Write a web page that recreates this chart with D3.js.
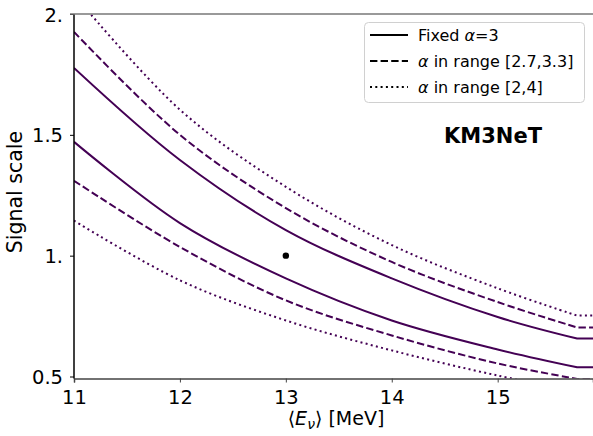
<!DOCTYPE html>
<html>
<head>
<meta charset="utf-8">
<script src="https://cdn.jsdelivr.net/npm/d3@7"></script>
<style>
  html, body { margin: 0; padding: 0; background: #fff; }
  svg { display: block; font-family: "DejaVu Sans", sans-serif; }
</style>
</head>
<body>
<svg id="chart" width="593" height="436"></svg>
<script>
// ---- data ----
const energies    = [11, 12, 13, 14, 15, 15.75, 15.9];
const fixedUpper  = [1.777, 1.396, 1.106, 0.906, 0.746, 0.657, 0.657];
const fixedLower  = [1.471, 1.135, 0.906, 0.732, 0.612, 0.538, 0.538];
const narrowUpper = [1.926, 1.500, 1.197, 0.974, 0.808, 0.703, 0.703];
const narrowLower = [1.310, 1.036, 0.815, 0.670, 0.554, 0.490, 0.490];
const wideUpper   = [2.080, 1.604, 1.285, 1.044, 0.865, 0.752, 0.752];
const wideLower   = [1.145, 0.898, 0.732, 0.608, 0.504, 0.440, 0.440];
const bestFit     = [{E: 13, s: 1.0}];
const xTicks = [11, 12, 13, 14, 15];
const yTicks = [0.5, 1.0, 1.5, 2.0];
const yTickLabels = ["0.5", "1.", "1.5", "2."];
const legendLabels = ["Fixed α=3", "α in range [2.7,3.3]", "α in range [2,4]"];

const color = "#440154";
const svg = d3.select("#chart");
const pLeft = 74, pRight = 593, pTop = 14, pBottom = 376.5, axisY = 378.5;

const x = d3.scaleLinear().domain([11, 15.9]).range([pLeft, pRight]);
const y = d3.scaleLinear().domain([0.5, 2.0]).range([pBottom, pTop]);

svg.append("defs").append("clipPath").attr("id", "clip")
  .append("rect").attr("x", pLeft).attr("y", pTop).attr("width", pRight - pLeft).attr("height", axisY - pTop);

const curveLine = d3.line().x(d => x(d[0])).y(d => y(d[1])).curve(d3.curveCatmullRom.alpha(0.5));
function pathFor(pts) {
  // smooth through the sampled points, then the flat tail as a straight segment
  const body = pts.slice(0, -1);
  const last = pts[pts.length - 1];
  return curveLine(body) + "L" + x(last[0]) + "," + y(last[1]);
}

const series = [
  {vals: fixedUpper, dash: null},
  {vals: fixedLower, dash: null},
  {vals: narrowUpper, dash: "7.4,3.2"},
  {vals: narrowLower, dash: "7.4,3.2"},
  {vals: wideUpper, dash: "2,3.3"},
  {vals: wideLower, dash: "2,3.3"}
];

const g = svg.append("g").attr("clip-path", "url(#clip)");
series.forEach(s => {
  g.append("path")
    .datum(energies.map((e, i) => [e, s.vals[i]]))
    .attr("d", pathFor)
    .attr("fill", "none")
    .attr("stroke", color)
    .attr("stroke-width", 2)
    .attr("stroke-dasharray", s.dash);
});

g.selectAll("circle.bf").data(bestFit).enter().append("circle")
  .attr("cx", d => x(d.E)).attr("cy", d => y(d.s)).attr("r", 3.2).attr("fill", "#000");

// axes
const xAxis = d3.axisBottom(x).tickValues(xTicks).tickSize(4).tickFormat(d3.format("d"));
const xg = svg.append("g").attr("transform", `translate(0,${axisY})`).call(xAxis);
xg.select(".domain").attr("stroke", "#444").attr("stroke-width", 1.5);
xg.selectAll(".tick line").attr("stroke", "#444");
xg.selectAll(".tick text").attr("font-size", 19.5).attr("fill", "#000")
  .attr("font-family", "DejaVu Sans").attr("dy", null).attr("y", 0)
  .attr("transform", "translate(0,25)");

const yAxis = d3.axisLeft(y).tickValues(yTicks).tickSize(4)
  .tickFormat((d, i) => yTickLabels[i]);
const yg = svg.append("g").attr("transform", `translate(${pLeft},0)`).call(yAxis);
yg.select(".domain").remove();
yg.selectAll(".tick line").attr("stroke", "#000");
yg.selectAll(".tick text").attr("font-size", 19.5).attr("fill", "#000")
  .attr("font-family", "DejaVu Sans").attr("x", -11).attr("dy", "0.36em");

// spines
svg.append("line").attr("x1", pLeft).attr("x2", pLeft).attr("y1", pTop).attr("y2", axisY)
  .attr("stroke", "#000").attr("stroke-width", 1.5);
svg.append("line").attr("x1", 70).attr("x2", pRight).attr("y1", pTop).attr("y2", pTop)
  .attr("stroke", "#777").attr("stroke-width", 1.5);

// labels
svg.append("text").attr("transform", "translate(22,192) rotate(-90)")
  .attr("text-anchor", "middle").attr("font-size", 20.5).text("Signal scale");

const xl = svg.append("text").attr("x", 336).attr("y", 425).attr("text-anchor", "middle").attr("font-size", 19);
xl.append("tspan").text("⟨");
xl.append("tspan").attr("font-style", "italic").text("E");
xl.append("tspan").attr("font-style", "italic").attr("font-size", 14).attr("dy", 4).text("ν");
xl.append("tspan").attr("dy", -4).text("⟩ [MeV]");

svg.append("text").attr("x", 493).attr("y", 143).attr("text-anchor", "middle")
  .attr("font-size", 21).attr("font-weight", "bold").text("KM3NeT");

// legend
const lg = svg.append("g");
lg.append("rect").attr("x", 364.5).attr("y", 22.5).attr("width", 220).attr("height", 80)
  .attr("rx", 4).attr("fill", "#fff").attr("stroke", "#d0d0d0").attr("stroke-width", 1);
const dashes = [null, "7.4,3.2", "2,3.3"];
legendLabels.forEach((lab, i) => {
  const yy = 35 + i * 26;
  lg.append("line").attr("x1", 370).attr("x2", 408).attr("y1", yy).attr("y2", yy)
    .attr("stroke", "#000").attr("stroke-width", 2).attr("stroke-dasharray", dashes[i]);
  const t = lg.append("text").attr("x", 418).attr("y", yy + 6).attr("font-size", 16);
  if (i === 0) {
    t.append("tspan").text("Fixed ");
    t.append("tspan").attr("font-style", "italic").text("α");
    t.append("tspan").text("=3");
  } else {
    t.append("tspan").attr("font-style", "italic").text("α");
    t.append("tspan").text(lab.slice(1));
  }
});
</script>
</body>
</html>
